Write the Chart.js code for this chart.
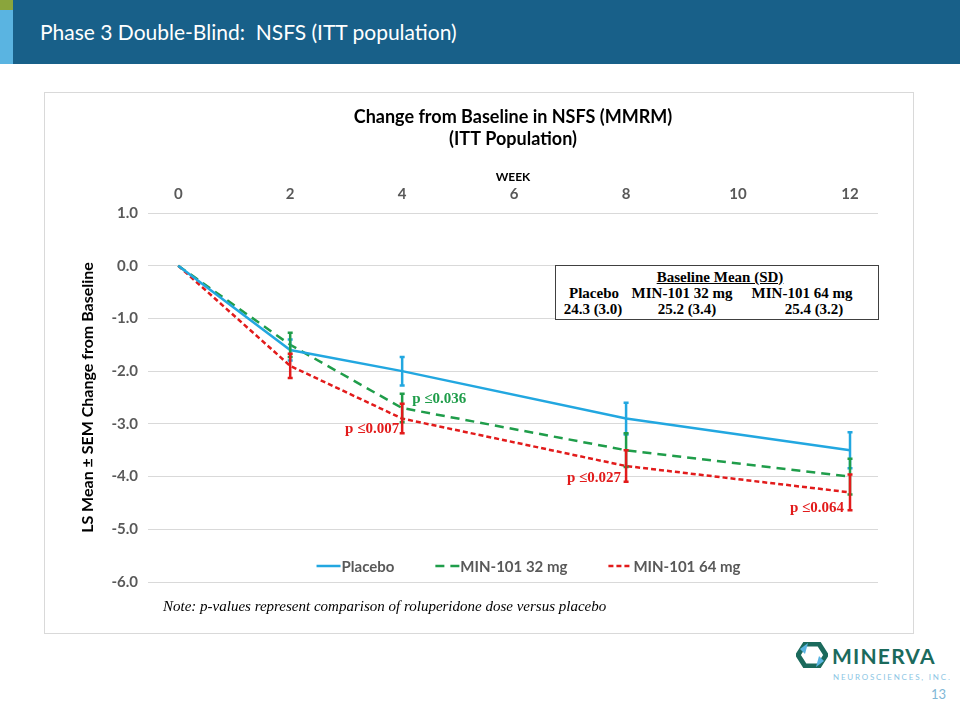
<!DOCTYPE html>
<html>
<head>
<meta charset="utf-8">
<script src="https://cdn.jsdelivr.net/npm/chart.js@4.4.0/dist/chart.umd.min.js"></script>
<style>
  body { margin: 0; width: 960px; height: 720px; position: relative; background: #fff; overflow: hidden; font-family: Lato, sans-serif; }
  .header { position: absolute; left: 0; top: 0; width: 960px; height: 64px; background: #186089; }
  .strip { position: absolute; left: 0; top: 0; width: 13px; height: 64px; background: #5ab4e1; }
  .strip-top { position: absolute; left: 0; top: 0; width: 13px; height: 10px; background: #8aa53c; }
  .header h1 { position: absolute; left: 40px; top: 19px; margin: 0; font-weight: normal; font-size: 21px; color: #fff; font-family: Lato, sans-serif; white-space: pre; }
  .card { position: absolute; left: 44px; top: 92px; width: 870px; height: 542px; border: 1px solid #d9d9d9; box-sizing: border-box; }
  #chart { position: absolute; left: 45px; top: 93px; }
  .baseline { position: absolute; left: 555px; top: 265px; width: 324px; height: 55px; border: 1px solid #404040; box-sizing: border-box; background: #fff;
    font-family: "Liberation Serif", "Times New Roman", serif; font-weight: bold; font-size: 15px; color: #000; }
  .baseline span { position: absolute; white-space: nowrap; transform: translateX(-50%); line-height: 16px; }
  .note { position: absolute; left: 163px; top: 598px; font-family: "Liberation Serif", serif; font-style: italic; font-size: 15px; color: #000; white-space: nowrap; }
  .logo { position: absolute; left: 796px; top: 642px; }
  .brand { position: absolute; left: 832px; top: 644px; font-family: Lato, sans-serif; font-weight: bold; font-size: 21px; line-height: 24px; color: #1b6a5c; letter-spacing: 1.2px; }
  .sub { position: absolute; left: 833px; top: 672px; font-family: Lato, sans-serif; font-size: 8px; line-height: 10px; color: #8cc6e4; letter-spacing: 1.8px; white-space: nowrap; }
  .page { position: absolute; left: 931px; top: 686px; font-family: Lato, sans-serif; font-size: 13px; color: #7fb7d6; }
</style>
</head>
<body>
<div class="header"><div class="strip"></div><div class="strip-top"></div><h1>Phase 3 Double-Blind:  NSFS (ITT population)</h1></div>
<div class="card"></div>
<canvas id="chart" width="868" height="540"></canvas>

<div class="baseline">
  <span style="left:164px;top:3px;text-decoration:underline;">Baseline Mean (SD)</span>
  <span style="left:38px;top:19px;">Placebo</span>
  <span style="left:126px;top:19px;">MIN-101 32 mg</span>
  <span style="left:246px;top:19px;">MIN-101 64 mg</span>
  <span style="left:37px;top:35px;">24.3 (3.0)</span>
  <span style="left:131px;top:35px;">25.2 (3.4)</span>
  <span style="left:258px;top:35px;">25.4 (3.2)</span>
</div>

<div class="note">Note: p-values represent comparison of roluperidone dose versus placebo</div>

<svg class="logo" width="32" height="26" viewBox="0 0 32 26">
  <polygon points="9,2 23,2 30,13 23,24 9,24 2,13" fill="none" stroke="#1b6a5c" stroke-width="5"/>
  <polygon points="4,7 12,1 9,12" fill="#5ab4e1"/>
  <polygon points="28,19 20,25 23,14" fill="#5ab4e1"/>
</svg>
<div class="brand">MINERVA</div>
<div class="sub">NEUROSCIENCES, INC.</div>
<div class="page">13</div>

<script>
// weeks on the x axis
const weeks = [0, 2, 4, 8, 12];
const weekTicks = [0, 2, 4, 6, 8, 10, 12];

// LS mean change from baseline
const placebo = [0, -1.6, -2.0, -2.9, -3.5];
const min32 = [0, -1.5, -2.7, -3.5, -4.0];
const min64 = [0, -1.9, -2.9, -3.8, -4.3];

// SEM (error bar half-lengths)
const placeboSem = [0, 0.2, 0.27, 0.3, 0.34];
const min32Sem = [0, 0.23, 0.27, 0.32, 0.34];
const min64Sem = [0, 0.23, 0.28, 0.3, 0.34];

const seriesLabels = ['Placebo', 'MIN-101 32 mg', 'MIN-101 64 mg'];

// p-values shown next to the treated arms
const pWeeks = [4, 4, 8, 12];
const pTexts = ['p \u22640.036', 'p \u22640.007', 'p \u22640.027', 'p \u22640.064'];
const pSeries = [1, 2, 2, 2];

const chartTitle = ['Change from Baseline in NSFS (MMRM)', '(ITT Population)'];

const BLUE = '#22a7e0';
const GREEN = '#1f9d4a';
const RED = '#e21b1b';

function pts(vals) {
  return weeks.map((w, i) => ({ x: w, y: vals[i] }));
}

// label placement relative to the point: [dx, dy, align]
const pPlace = [[10, -9, 'left'], [-3, 11, 'right'], [-5, 12, 'right'], [-6, 16, 'right']];

const extras = {
  id: 'extras',
  afterDatasetsDraw(chart) {
    const ctx = chart.ctx;
    const xs = chart.scales.x, ys = chart.scales.y;
    // error bars
    chart.data.datasets.forEach(ds => {
      ctx.save();
      ctx.strokeStyle = ds.borderColor;
      ctx.lineWidth = 2.5;
      ds.sem.forEach((e, i) => {
        if (!e) return;
        const x = xs.getPixelForValue(weeks[i]);
        const y1 = ys.getPixelForValue(ds.data[i].y + e);
        const y2 = ys.getPixelForValue(ds.data[i].y - e);
        ctx.beginPath();
        ctx.moveTo(x, y1); ctx.lineTo(x, y2);
        ctx.moveTo(x - 2.5, y1); ctx.lineTo(x + 2.5, y1);
        ctx.moveTo(x - 2.5, y2); ctx.lineTo(x + 2.5, y2);
        ctx.stroke();
      });
      ctx.restore();
    });
    // p-value labels
    ctx.save();
    ctx.font = 'bold 15px "Liberation Serif", serif';
    ctx.textBaseline = 'middle';
    pTexts.forEach((t, k) => {
      const ds = chart.data.datasets[pSeries[k]];
      const i = weeks.indexOf(pWeeks[k]);
      const [dx, dy, al] = pPlace[k];
      ctx.fillStyle = ds.borderColor;
      ctx.textAlign = al;
      ctx.fillText(t, xs.getPixelForValue(pWeeks[k]) + dx, ys.getPixelForValue(ds.data[i].y) + dy);
    });
    ctx.restore();
  },
  afterDraw(chart) {
    const ctx = chart.ctx;
    const a = chart.chartArea;
    const cx = (a.left + a.right) / 2;
    // title
    ctx.save();
    ctx.fillStyle = '#000';
    ctx.font = 'bold 18px Lato, sans-serif';
    ctx.textAlign = 'center';
    ctx.textBaseline = 'middle';
    chartTitle.forEach((t, i) => ctx.fillText(t, cx, 24 + i * 22));
    // legend inside the plot area
    ctx.font = 'bold 15px Lato, sans-serif';
    const lineW = 24, gap = 42;
    const items = chart.data.datasets.map(ds => ({ ds, w: ctx.measureText(ds.label).width }));
    const total = items.reduce((s, it) => s + lineW + it.w, 0) + gap * (items.length - 1);
    let x = cx + 15 - total / 2;
    const y = a.bottom - 16;
    ctx.textAlign = 'left';
    items.forEach(it => {
      ctx.strokeStyle = it.ds.borderColor;
      ctx.lineWidth = 2.5;
      ctx.setLineDash(it.ds.borderDash || []);
      ctx.beginPath();
      ctx.moveTo(x, y); ctx.lineTo(x + lineW, y);
      ctx.stroke();
      ctx.setLineDash([]);
      ctx.fillStyle = '#595959';
      ctx.fillText(it.ds.label, x + lineW + 1, y + 1);
      x += lineW + it.w + gap;
    });
    ctx.restore();
  }
};

new Chart(document.getElementById('chart').getContext('2d'), {
  type: 'line',
  data: {
    datasets: [
      { label: seriesLabels[0], data: pts(placebo), sem: placeboSem, borderColor: BLUE, borderWidth: 2.5 },
      { label: seriesLabels[1], data: pts(min32), sem: min32Sem, borderColor: GREEN, borderWidth: 2.5, borderDash: [9, 6] },
      { label: seriesLabels[2], data: pts(min64), sem: min64Sem, borderColor: RED, borderWidth: 2.5, borderDash: [5, 3] }
    ]
  },
  options: {
    responsive: false,
    animation: false,
    layout: { padding: { left: 29, right: 35, top: 60, bottom: 51 } },
    elements: { point: { radius: 0 }, line: { tension: 0 } },
    plugins: { legend: { display: false }, title: { display: false }, tooltip: { enabled: false } },
    scales: {
      x: {
        type: 'linear', position: 'top', min: -0.54, max: 12.5,
        afterBuildTicks(s) { s.ticks = weekTicks.map(v => ({ value: v })); },
        ticks: { color: '#595959', font: { family: 'Lato', size: 15, weight: 'bold' }, padding: 10 },
        grid: { display: false, drawTicks: false },
        border: { display: false },
        title: { display: true, text: 'WEEK', color: '#000', font: { family: 'Lato', size: 12, weight: 'bold' }, padding: { top: 17, bottom: 0 } },
        afterFit(s) { s.height = 60; }
      },
      y: {
        min: -6, max: 1,
        ticks: { stepSize: 1, color: '#595959', font: { family: 'Lato', size: 15, weight: 'bold' }, padding: 10, callback: v => v.toFixed(1) },
        grid: { color: '#d9d9d9', drawTicks: false },
        border: { display: false },
        title: { display: true, text: 'LS Mean \u00b1 SEM Change from Baseline', color: '#000', font: { family: 'Lato', size: 16, weight: 'bold' } },
        afterFit(s) { s.width = 74; }
      }
    }
  },
  plugins: [extras]
});
</script>
</body>
</html>
